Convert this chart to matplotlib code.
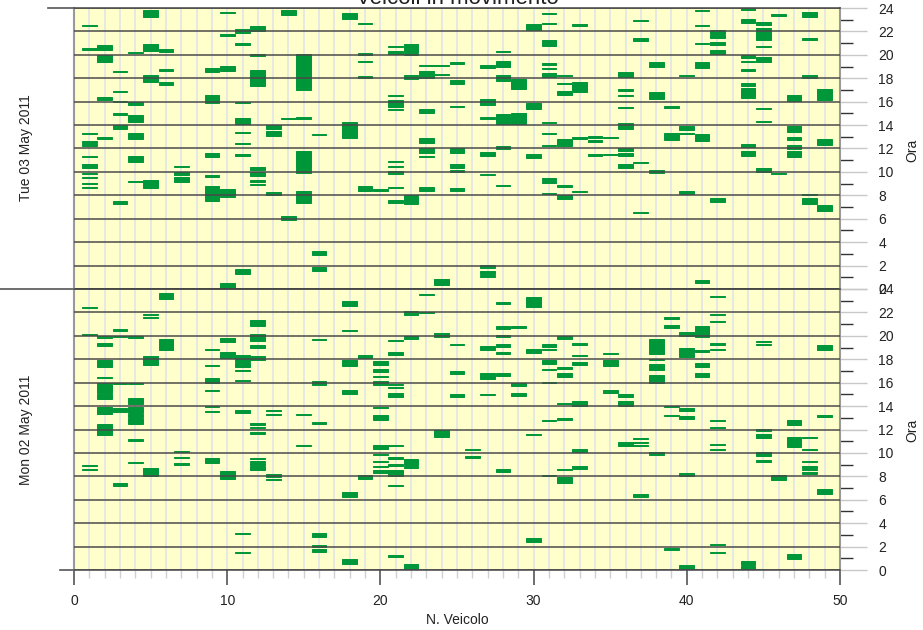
import matplotlib
matplotlib.use("Agg")
import matplotlib.pyplot as plt
from matplotlib.ticker import MultipleLocator

plt.rcParams['font.family'] = ['Liberation Sans', 'DejaVu Sans']

# trips per vehicle: (vehicle number, start hour, end hour)
tue_trips = [
    (1, 22.45, 22.55), (1, 20.45, 20.55), (1, 13.25, 13.35), (1, 12.5, 12.6), (1, 12.25, 12.35),
    (1, 11.25, 11.35), (1, 10.3, 10.65), (1, 9.8, 9.9), (1, 9.5, 9.6), (1, 8.95, 9.05), (1, 8.65, 8.75),
    (2, 20.4, 20.85), (2, 19.35, 19.95), (2, 16.1, 16.4), (2, 12.85, 12.95),
    (3, 18.5, 18.6), (3, 16.85, 16.95), (3, 15.95, 16.05), (3, 14.9, 15.0), (3, 13.7, 14.0), (3, 7.3, 7.55),
    (4, 20.15, 20.25), (4, 15.75, 15.95), (4, 14.25, 14.85), (4, 12.8, 13.35), (4, 10.85, 11.35), (4, 9.15, 9.25),
    (5, 23.2, 23.85), (5, 20.3, 20.95), (5, 17.65, 18.25), (5, 8.65, 9.35),
    (6, 20.2, 20.5), (6, 18.65, 18.75), (6, 17.4, 17.65),
    (7, 10.4, 10.5), (7, 9.7, 10.0), (7, 9.1, 9.55),
    (9, 18.5, 18.85), (9, 15.85, 16.55), (9, 11.3, 11.65), (9, 9.6, 9.7), (9, 7.55, 8.8),
    (10, 23.55, 23.65), (10, 21.65, 21.75), (10, 18.65, 19.05), (10, 7.9, 8.5), (10, 0.0, 0.55),
    (11, 21.9, 22.2), (11, 20.88, 20.98), (11, 15.85, 15.95), (11, 14.1, 14.6), (11, 13.35, 13.45),
    (11, 12.35, 12.45), (11, 11.4, 11.5), (11, 1.3, 1.7),
    (12, 22.0, 22.45), (12, 19.9, 20.05), (12, 17.3, 18.7), (12, 10.2, 10.45), (12, 9.65, 10.0),
    (12, 9.15, 9.35), (12, 8.9, 9.0),
    (13, 13.7, 14.0), (13, 13.05, 13.5), (13, 8.0, 8.3),
    (14, 23.4, 23.8), (14, 14.5, 14.6), (14, 5.9, 6.25),
    (15, 17.0, 20.1), (15, 14.55, 14.65), (15, 9.9, 11.8), (15, 7.35, 8.4),
    (16, 13.15, 13.25), (16, 2.9, 3.25), (16, 1.55, 1.9),
    (18, 23.1, 23.55), (18, 12.9, 14.3),
    (19, 22.65, 22.75), (19, 19.95, 20.15), (19, 19.35, 19.45), (19, 18.05, 18.15), (19, 8.4, 8.8),
    (20, 8.35, 8.55),
    (21, 20.65, 20.75), (21, 20.1, 20.35), (21, 16.5, 16.6), (21, 15.55, 16.1), (21, 15.25, 15.35),
    (21, 10.85, 10.95), (21, 10.4, 10.5), (21, 9.85, 10.05), (21, 8.6, 8.7), (21, 7.35, 7.6),
    (22, 20.15, 20.95), (22, 19.95, 20.05), (22, 17.9, 18.3), (22, 7.25, 8.0),
    (23, 19.05, 19.15), (23, 18.0, 18.6), (23, 15.0, 15.4), (23, 12.5, 12.9), (23, 11.65, 12.0),
    (23, 11.25, 11.35), (23, 8.35, 8.7),
    (24, 19.05, 19.15), (24, 18.25, 18.35), (24, 0.35, 0.85),
    (25, 19.25, 19.35), (25, 17.55, 17.85), (25, 15.55, 15.65), (25, 11.65, 12.0), (25, 10.35, 10.65),
    (25, 10.0, 10.2), (25, 8.35, 8.65),
    (27, 18.85, 19.15), (27, 15.75, 16.2), (27, 14.55, 14.65), (27, 11.4, 11.7), (27, 9.75, 9.85),
    (27, 1.8, 2.05), (27, 1.3, 1.55), (27, 1.0, 1.2),
    (28, 20.2, 20.3), (28, 19.0, 19.45), (28, 17.8, 18.25), (28, 14.05, 14.95), (28, 12.0, 12.2), (28, 8.8, 8.9),
    (29, 17.1, 17.95), (29, 14.05, 15.05),
    (30, 22.1, 22.6), (30, 15.4, 15.85), (30, 11.2, 11.55),
    (31, 23.45, 23.55), (31, 22.6, 22.7), (31, 20.75, 21.25), (31, 19.15, 19.3), (31, 18.75, 18.9),
    (31, 18.1, 18.45), (31, 14.15, 14.25), (31, 13.2, 13.3), (31, 12.2, 12.3), (31, 9.35, 9.45),
    (31, 9.05, 9.25), (31, 8.1, 8.2),
    (32, 18.15, 18.25), (32, 17.5, 17.6), (32, 16.55, 16.9), (32, 12.2, 12.8), (32, 8.75, 8.85), (32, 7.7, 8.0),
    (33, 22.5, 22.6), (33, 16.8, 17.7), (33, 12.85, 12.95), (33, 8.3, 8.4),
    (34, 12.9, 13.05), (34, 12.55, 12.7), (34, 11.4, 11.5),
    (35, 12.9, 13.0), (35, 11.45, 11.55),
    (36, 18.1, 18.55), (36, 16.95, 17.05), (36, 16.45, 16.55), (36, 15.45, 15.55), (36, 13.65, 14.15),
    (36, 11.8, 12.0), (36, 11.4, 11.6), (36, 10.35, 10.7),
    (37, 22.9, 23.0), (37, 21.2, 21.4), (37, 10.75, 10.85), (37, 6.45, 6.55),
    (38, 19.0, 19.35), (38, 16.2, 16.85), (38, 9.9, 10.15),
    (39, 15.5, 15.6), (39, 12.7, 13.35),
    (40, 18.15, 18.3), (40, 13.6, 13.9), (40, 13.25, 13.35), (40, 8.1, 8.35),
    (41, 23.75, 23.85), (41, 22.45, 22.55), (41, 20.95, 21.05), (41, 18.85, 19.4), (41, 12.6, 13.2), (41, 0.55, 0.75),
    (42, 21.8, 22.1), (42, 21.45, 21.7), (42, 20.85, 21.1), (42, 20.1, 20.4), (42, 7.45, 7.8),
    (44, 23.85, 24.0), (44, 22.7, 23.1), (44, 19.7, 19.95), (44, 19.35, 19.45), (44, 18.65, 18.75),
    (44, 17.3, 17.6), (44, 16.3, 17.2), (44, 12.1, 12.4), (44, 11.4, 11.75),
    (45, 22.55, 22.8), (45, 21.25, 22.3), (45, 20.65, 20.75), (45, 19.35, 19.8), (45, 15.4, 15.5),
    (45, 14.25, 14.35), (45, 10.0, 10.3),
    (46, 23.35, 23.45), (46, 9.85, 9.95),
    (47, 16.05, 16.6), (47, 13.45, 13.9), (47, 12.7, 13.0), (47, 12.0, 12.3), (47, 11.25, 11.8),
    (48, 23.2, 23.7), (48, 21.3, 21.4), (48, 18.0, 18.3), (48, 8.0, 8.1), (48, 7.3, 7.8),
    (49, 16.15, 17.05), (49, 12.3, 12.8), (49, 6.65, 7.15),
]

mon_trips = [
    (1, 22.4, 22.5), (1, 20.05, 20.15), (1, 8.85, 8.95), (1, 8.5, 8.6),
    (2, 19.85, 19.95), (2, 19.1, 19.35), (2, 17.35, 17.95), (2, 16.4, 16.5), (2, 15.1, 15.95),
    (2, 14.6, 15.05), (2, 13.3, 13.95), (2, 11.5, 12.45),
    (3, 20.45, 20.55), (3, 19.9, 20.0), (3, 15.9, 16.0), (3, 13.5, 13.8), (3, 7.2, 7.4),
    (4, 19.85, 19.95), (4, 15.85, 15.95), (4, 14.15, 14.7), (4, 13.45, 13.9), (4, 13.1, 13.3),
    (4, 12.5, 12.95), (4, 11.05, 11.15), (4, 9.1, 9.2),
    (5, 21.75, 21.85), (5, 21.5, 21.6), (5, 17.5, 18.25), (5, 8.0, 8.75),
    (6, 23.15, 23.7), (6, 18.8, 19.7),
    (7, 10.05, 10.15), (7, 9.55, 9.65), (7, 9.0, 9.1),
    (9, 18.8, 18.9), (9, 17.45, 17.55), (9, 15.95, 16.4), (9, 15.25, 15.35), (9, 13.9, 14.0),
    (9, 13.5, 13.6), (9, 9.15, 9.6),
    (10, 19.45, 19.8), (10, 18.1, 18.65), (10, 7.8, 8.45),
    (11, 17.8, 18.35), (11, 17.35, 17.65), (11, 17.0, 17.1), (11, 16.1, 16.2), (11, 13.4, 13.7),
    (11, 3.1, 3.2), (11, 1.45, 1.55),
    (12, 20.85, 21.35), (12, 19.6, 20.15), (12, 18.95, 19.25), (12, 17.9, 18.3), (12, 12.4, 12.55),
    (12, 12.1, 12.25), (12, 11.65, 11.75), (12, 9.45, 9.55), (12, 9.25, 9.35), (12, 9.0, 9.1), (12, 8.5, 8.85),
    (13, 13.6, 13.7), (13, 13.2, 13.3), (13, 7.95, 8.2), (13, 7.7, 7.8),
    (15, 13.25, 13.35), (15, 10.6, 10.7),
    (16, 19.65, 19.75), (16, 15.8, 16.15), (16, 12.5, 12.6), (16, 2.8, 3.2), (16, 1.95, 2.1), (16, 1.5, 1.8),
    (18, 22.55, 22.95), (18, 20.4, 20.5), (18, 17.45, 17.9), (18, 15.0, 15.4), (18, 6.2, 6.7), (18, 0.55, 0.95),
    (19, 18.1, 18.35), (19, 7.8, 8.1),
    (20, 17.5, 17.85), (20, 16.95, 17.2), (20, 16.45, 16.55), (20, 15.8, 16.15), (20, 13.8, 13.9),
    (20, 12.85, 13.2), (20, 10.3, 10.65), (20, 9.85, 9.95), (20, 9.2, 9.3), (20, 8.8, 8.9), (20, 8.3, 8.5),
    (21, 19.55, 19.65), (21, 18.4, 18.6), (21, 15.8, 15.9), (21, 15.55, 15.65), (21, 14.8, 15.1),
    (21, 10.55, 10.65), (21, 9.45, 9.65), (21, 8.85, 9.05), (21, 8.0, 8.55), (21, 7.15, 7.25), (21, 1.15, 1.25),
    (22, 21.8, 22.1), (22, 19.75, 19.95), (22, 8.95, 9.5), (22, 8.75, 8.85), (22, 0.0, 0.5),
    (23, 23.45, 23.55), (23, 21.95, 22.05),
    (24, 19.9, 20.2), (24, 11.4, 11.95),
    (25, 19.2, 19.3), (25, 16.75, 17.0), (25, 14.8, 15.05),
    (26, 10.25, 10.35), (26, 9.6, 9.7),
    (27, 18.75, 19.1), (27, 16.3, 16.8), (27, 14.95, 15.05),
    (28, 22.75, 22.85), (28, 20.55, 20.85), (28, 19.9, 20.1), (28, 19.05, 19.3), (28, 18.45, 18.65),
    (28, 16.55, 16.85), (28, 8.4, 8.6),
    (29, 20.7, 20.8), (29, 15.7, 15.95), (29, 14.85, 15.15),
    (30, 22.45, 23.3), (30, 18.5, 18.85), (30, 11.5, 11.6), (30, 2.4, 2.75),
    (31, 19.05, 19.3), (31, 18.75, 18.85), (31, 17.6, 17.95), (31, 17.1, 17.2), (31, 15.95, 16.05),
    (31, 12.7, 12.8), (31, 8.05, 8.15),
    (32, 19.75, 20.0), (32, 17.2, 17.3), (32, 16.45, 16.8), (32, 14.2, 14.3), (32, 12.85, 12.95),
    (32, 8.5, 8.6), (32, 7.4, 7.95),
    (33, 19.25, 19.35), (33, 18.25, 18.35), (33, 17.55, 17.75), (33, 14.0, 14.4), (33, 10.1, 10.3), (33, 8.6, 8.9),
    (35, 18.45, 18.55), (35, 17.45, 17.9), (35, 15.1, 15.4),
    (36, 14.8, 15.0), (36, 14.0, 14.45), (36, 10.6, 10.9),
    (37, 11.15, 11.25), (37, 10.85, 10.95), (37, 10.6, 10.7), (37, 6.2, 6.5),
    (38, 18.45, 19.7), (38, 17.9, 18.0), (38, 17.05, 17.6), (38, 16.0, 16.65), (38, 9.85, 10.1),
    (39, 21.4, 21.65), (39, 20.7, 20.9), (39, 13.9, 14.0), (39, 13.15, 13.25), (39, 1.7, 1.9),
    (40, 20.0, 20.35), (40, 18.15, 19.0), (40, 13.6, 13.8), (40, 12.9, 13.15), (40, 8.05, 8.3), (40, 0.0, 0.4),
    (41, 19.9, 20.8), (41, 18.65, 18.75), (41, 17.35, 17.65), (41, 16.45, 16.8),
    (42, 23.3, 23.4), (42, 21.75, 21.85), (42, 21.15, 21.3), (42, 19.25, 19.35), (42, 18.75, 18.85),
    (42, 12.7, 12.8), (42, 12.1, 12.2), (42, 10.7, 10.8), (42, 10.25, 10.35), (42, 2.1, 2.25), (42, 1.45, 1.55),
    (44, 0.4, 0.8), (44, 0.0, 0.35),
    (45, 19.5, 19.6), (45, 19.2, 19.3), (45, 11.9, 12.0), (45, 11.3, 11.65), (45, 9.75, 10.1), (45, 9.2, 9.4),
    (46, 7.65, 8.15),
    (47, 12.35, 12.85), (47, 10.5, 11.4), (47, 0.95, 1.35),
    (48, 11.25, 11.35), (48, 10.25, 10.35), (48, 9.25, 9.35), (48, 8.75, 8.9), (48, 8.5, 8.65), (48, 8.2, 8.4),
    (49, 18.8, 19.25), (49, 13.1, 13.2), (49, 6.45, 6.95),
]

day_labels = ["Tue 03 May 2011", "Mon 02 May 2011"]
hour_ticks = list(range(0, 25, 2))
vehicle_ticks = [0, 10, 20, 30, 40, 50]

fig = plt.figure(figsize=(9.23, 6.30), dpi=100)

W, H = 923.0, 630.0
x0, x1 = 74 / W, 840 / W
ax_top = fig.add_axes([x0, 1 - 289 / H, x1 - x0, (289 - 8) / H])
ax_bot = fig.add_axes([x0, 1 - 570 / H, x1 - x0, (570 - 289) / H])

green = '#00963a'
for ax, trips in [(ax_top, tue_trips), (ax_bot, mon_trips)]:
    ax.set_facecolor('#ffffcc')
    veh = [t[0] for t in trips]
    start = [t[1] for t in trips]
    dur = [t[2] - t[1] for t in trips]
    # vertical guide at every vehicle
    for v in range(1, 50):
        ax.axvline(v, color='#e2e2ea', lw=1.1, zorder=1)
    # thin edge so that very short trips stay visible
    ax.bar(veh, dur, bottom=start, width=0.96, color=green, edgecolor=green, lw=0.7, zorder=2)
    # hour lines every 2 hours
    for h in hour_ticks:
        ax.axhline(h, color='#4a4a4a', lw=1.1, zorder=3)
    ax.set_xlim(0, 50)
    ax.set_ylim(0, 24)

    ax.yaxis.tick_right()
    ax.set_yticks(hour_ticks)
    ax.yaxis.set_minor_locator(MultipleLocator(1))
    ax.tick_params(axis='y', which='major', length=19.5, width=1, color='#c8c8c8',
                   pad=8, labelsize=10, labelcolor='#222222')
    ax.tick_params(axis='y', which='minor', length=9.5, width=1, color='#333333')
    for side in ['left', 'right']:
        ax.spines[side].set_color('#999999')
        ax.spines[side].set_linewidth(1.5)
    for side in ['top', 'bottom']:
        ax.spines[side].set_color('#444444')
        ax.spines[side].set_linewidth(1.1)

ax_top.set_xticks([])
ax_bot.set_xticks(vehicle_ticks)
ax_bot.xaxis.set_minor_locator(MultipleLocator(1))
ax_bot.tick_params(axis='x', which='major', length=11, width=1.2, color='#555555',
                   pad=6, labelsize=10, labelcolor='#222222')
ax_bot.tick_params(axis='x', which='minor', length=6, width=1, color='#d0d0d0')

# tick marks on the left side between the days
ax_top.plot([-0.034, 0], [1, 1], transform=ax_top.transAxes, color='#555555', lw=1.2, clip_on=False)
ax_top.plot([-0.0966, 0], [0, 0], transform=ax_top.transAxes, color='#555555', lw=1.2, clip_on=False)
ax_bot.plot([-0.018, 0], [0, 0], transform=ax_bot.transAxes, color='#555555', lw=1.2, clip_on=False)

fig.text(26 / W, 1 - 148 / H, day_labels[0], rotation=90, ha='center', va='center', fontsize=10, color='#222222')
fig.text(26 / W, 1 - 430 / H, day_labels[1], rotation=90, ha='center', va='center', fontsize=10, color='#222222')
fig.text(912 / W, 1 - 150 / H, "Ora", rotation=90, ha='center', va='center', fontsize=10, color='#222222')
fig.text(912 / W, 1 - 430 / H, "Ora", rotation=90, ha='center', va='center', fontsize=10, color='#222222')
fig.text(457 / W, 1 - 620 / H, "N. Veicolo", ha='center', va='center', fontsize=10, color='#222222')
fig.text(457 / W, 1 - 4 / H, "Veicoli in movimento", ha='center', va='baseline', fontsize=16, color='#222222')

fig.savefig("out.png", dpi=100)
